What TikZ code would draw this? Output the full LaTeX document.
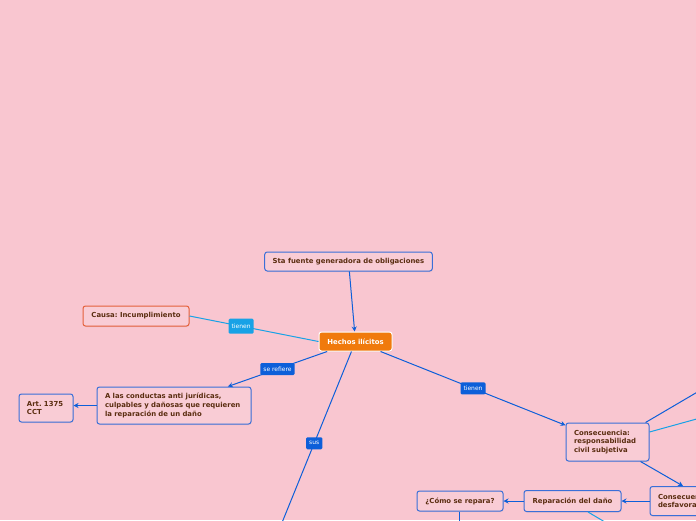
\documentclass[tikz,border=0pt]{standalone}
\usepackage{fontspec}
\setmainfont{DejaVu Sans}
\usetikzlibrary{arrows.meta, shadows}
\usepackage{xcolor}
\frenchspacing
\definecolor{MapPink}{HTML}{F9C6D0}
\definecolor{MapBoxFill}{HTML}{F9CCD5}
\definecolor{MapText}{HTML}{5A2D10}
\definecolor{MapBlue}{HTML}{3A6FD8}
\definecolor{MapLink}{HTML}{0D5FD9}
\definecolor{MapCyan}{HTML}{18A2E6}
\definecolor{MapOrange}{HTML}{F07A0C}
\definecolor{MapRed}{HTML}{E5603A}
\tikzset{
    % Box styles - small rounded corners
    topic/.style={
        rectangle,
        rounded corners=2.5pt,
        draw=MapBlue,
        fill=MapBoxFill,
        line width=1pt,
        text=MapText,
        font=\bfseries\fontsize{6.9}{8.8}\selectfont,
        inner xsep=8pt,
        inner ysep=2pt,
        drop shadow={opacity=0.12, shadow xshift=0.6pt, shadow yshift=-1pt}
    },
    central/.style={
        topic,
        draw=white,
        fill=MapOrange,
        text=white
    },
    cause/.style={
        topic,
        draw=MapRed
    },
    % Label styles
    linklabel/.style={
        rectangle,
        rounded corners=1.2pt,
        fill=MapLink,
        text=white,
        font=\fontsize{6}{7}\selectfont,
        inner xsep=3pt,
        inner ysep=1pt,
        minimum height=12pt
    },
    cyanlabel/.style={
        linklabel,
        fill=MapCyan,
        minimum height=15pt
    },
    % Connector styles - straight lines only
    arrow/.style={
        -{Stealth[length=5pt, width=5pt]},
        line width=1pt,
        draw=MapLink
    },
    link/.style={
        line width=1pt,
        draw=MapLink
    },
    cyanlink/.style={
        line width=1pt,
        draw=MapCyan
    }
}

\begin{document}
\begin{tikzpicture}[x=1pt, y=-1pt]
    \path[use as bounding box, fill=MapPink] (0,0) rectangle (696,520);
    \clip (0,0) rectangle (696,520);

    \node[topic, minimum width=167pt, minimum height=19pt] (fuente) at (348.5,261.5) {Sta fuente generadora de obligaciones};
    \node[central, minimum width=73pt, minimum height=19pt] (hechos) at (355.5,341.5) {Hechos ilícitos};
    \node[cause, minimum width=106pt, minimum height=20pt] (causa) at (136,316) {Causa: Incumplimiento};
    \node[topic, text width=138pt, align=left, minimum height=37pt] (conductas) at (174,405.5) {A las conductas anti jurídicas,\\culpables y dañosas que requieren\\la reparación de un daño};
    \node[topic, text width=38pt, align=left, minimum height=28pt] (art) at (46,408) {Art. 1375\\CCT};
    \node[topic, text width=67pt, align=left, minimum height=38pt] (consec) at (607.5,442) {Consecuencia:\\responsabilidad\\civil subjetiva};
    \node[topic, text width=62pt, align=left, minimum height=29pt] (desfav) at (689,501) {Consecuencias\\desfavorables};
    \node[topic, minimum width=97pt, minimum height=21pt] (repar) at (572.5,501) {Reparación del daño};
    \node[topic, minimum width=86pt, minimum height=20pt] (como) at (460,501) {¿Cómo se repara?};

    % free ends leaving the page
    \coordinate (susend) at (277,535);
    \coordinate (comoend) at (459,535);
    \coordinate (reparend) at (615,528);
    \coordinate (consecup) at (740,367);
    \coordinate (consecside) at (740,407);

    \draw[arrow] (fuente) -- (hechos);
    \draw[cyanlink] (causa.east) -- node[cyanlabel, pos=0.4] (tienenA) {tienen} (hechos.west);
    \draw[arrow] (hechos) -- node[linklabel, pos=0.5] (serefiere) {se refiere} (conductas);
    \draw[arrow] (conductas.west) -- (conductas.west -| art.east);
    \draw[link] (hechos) -- node[linklabel, pos=0.5] (sus) {sus} (susend);
    \draw[arrow] (hechos) -- node[linklabel, pos=0.5] (tienenB) {tienen} (consec);
    \draw[link] ([xshift=-4pt]consec.north east) -- (consecup);
    \draw[cyanlink] ([yshift=10pt]consec.east) -- (consecside);
    \draw[arrow] ([xshift=33pt]consec.south) -- ([xshift=-6pt]desfav.north);
    \draw[arrow] (desfav.west) -- (repar.east);
    \draw[arrow] (repar.west) -- (como.east);
    \draw[link] ([xshift=-1pt]como.south) -- (comoend);
    \draw[cyanlink] ([xshift=15.5pt]repar.south) -- (reparend);
\end{tikzpicture}
\end{document}
